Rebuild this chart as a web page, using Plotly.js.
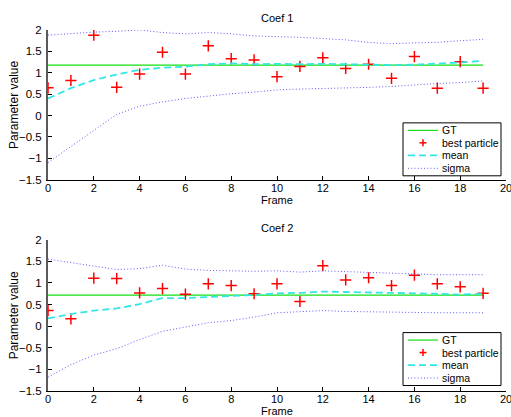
<!DOCTYPE html>
<html>
<head>
<meta charset="utf-8">
<script src="https://cdn.plot.ly/plotly-3.0.1.min.js"></script>
<style>
html,body{margin:0;padding:0;background:#fff;}
#chart{width:511px;height:417px;}
</style>
</head>
<body>
<div id="chart"></div>
<script>
// ---- data ----
const frames = [0,1,2,3,4,5,6,7,8,9,10,11,12,13,14,15,16,17,18,19];

const coef1Gt = 1.18;
const coef1Best  = [0.65,0.82,1.88,0.66,0.97,1.48,0.97,1.63,1.33,1.30,0.91,1.15,1.35,1.10,1.20,0.87,1.38,0.64,1.26,0.64];
const coef1Mean  = [0.40,0.64,0.83,0.96,1.07,1.12,1.14,1.20,1.22,1.20,1.21,1.20,1.21,1.20,1.20,1.18,1.19,1.21,1.24,1.28];
const coef1Upper = [1.88,1.92,1.95,1.97,2.00,1.94,1.91,1.94,1.91,1.86,1.85,1.83,1.80,1.77,1.71,1.68,1.70,1.71,1.75,1.78];
const coef1Lower = [-1.10,-0.72,-0.36,0.03,0.22,0.32,0.40,0.46,0.51,0.55,0.60,0.62,0.63,0.65,0.66,0.68,0.72,0.75,0.77,0.81];

const coef2Gt = 0.72;
const coef2Best  = [0.36,0.17,1.11,1.10,0.77,0.87,0.74,0.98,0.94,0.75,0.98,0.57,1.40,1.07,1.12,0.94,1.18,0.98,0.91,0.76];
const coef2Mean  = [0.18,0.28,0.36,0.41,0.51,0.65,0.65,0.68,0.70,0.72,0.76,0.77,0.80,0.79,0.78,0.78,0.76,0.75,0.73,0.75];
const coef2Upper = [1.55,1.47,1.40,1.31,1.33,1.41,1.32,1.29,1.28,1.27,1.28,1.25,1.28,1.26,1.25,1.23,1.21,1.19,1.19,1.19];
const coef2Lower = [-1.18,-0.89,-0.67,-0.52,-0.31,-0.12,-0.02,0.08,0.13,0.21,0.31,0.33,0.36,0.34,0.33,0.33,0.32,0.31,0.31,0.31];

const titles = ['Coef 1','Coef 2'];
const legendLabels = ['GT','best particle','mean','sigma'];
const xLabel = 'Frame';
const yLabel = 'Parameter value';

// ---- styles ----
const FONT = 'Liberation Sans, Arial, Helvetica, sans-serif';
const GREEN = '#12e012';
const RED = '#ff0000';
const CYAN = '#33e6e6';
const BLUE = 'rgb(90,90,250)';
const MEAN_DASH = '7px,4px';
const SIG_DASH = '1px,2.2px';

const W = 511, H = 417;
const M = {l:48, r:5, t:30, b:25.5};
const PW = W - M.l - M.r, PH = H - M.t - M.b;
const px2x = p => (p - M.l) / PW;
const px2y = p => (H - M.b - p) / PH;

function series(xa, ya, gt, best, mean, upper, lower) {
  const ax = {xaxis: xa, yaxis: ya, showlegend: false, hoverinfo: 'skip'};
  return [
    Object.assign({x:[frames[0], frames[frames.length-1]], y:[gt, gt], mode:'lines',
      line:{color:GREEN, width:1.2}}, ax),
    Object.assign({x:frames, y:best, mode:'markers',
      marker:{symbol:'cross-thin-open', size:8, color:RED, line:{color:RED, width:1.5}}}, ax),
    Object.assign({x:frames, y:mean, mode:'lines',
      line:{color:CYAN, width:1.8, dash:MEAN_DASH}}, ax),
    Object.assign({x:frames, y:upper, mode:'lines',
      line:{color:BLUE, width:1, dash:SIG_DASH}}, ax),
    Object.assign({x:frames, y:lower, mode:'lines',
      line:{color:BLUE, width:1, dash:SIG_DASH}}, ax)
  ];
}

const data = [].concat(
  series('x', 'y', coef1Gt, coef1Best, coef1Mean, coef1Upper, coef1Lower),
  series('x2', 'y2', coef2Gt, coef2Best, coef2Mean, coef2Upper, coef2Lower)
);

function xAx(anchor) {
  return {anchor: anchor, domain:[0,1], range:[0,20], dtick:2, tick0:0,
    ticks:'inside', ticklen:4, tickcolor:'#000', tickwidth:1,
    showline:true, linecolor:'#000', linewidth:1, mirror:false,
    showgrid:false, zeroline:false, ticklabeloverflow:'allow', ticklabelstandoff:-2,
    tickfont:{family:FONT, size:11, color:'#000'}};
}
function yAx(anchor, domain) {
  return {anchor: anchor, domain: domain, range:[-1.5,2], dtick:0.5, tick0:0,
    ticks:'inside', ticklen:4, tickcolor:'#000', tickwidth:1,
    showline:true, linecolor:'#5a5a5a', linewidth:2, mirror:false,
    showgrid:false, zeroline:false, ticklabelstandoff:2, ticklabeloverflow:'allow',
    tickfont:{family:FONT, size:11.5, color:'#000'}};
}

const top1 = 30, bot1 = 180, top2 = 240, bot2 = 391.5;

const layout = {
  width:W, height:H, margin:M,
  paper_bgcolor:'#fff', plot_bgcolor:'rgba(0,0,0,0)',
  showlegend:false,
  font:{family:FONT, size:11, color:'#000'},
  xaxis: xAx('y'),
  yaxis: yAx('x', [px2y(bot1), px2y(top1)]),
  xaxis2: xAx('y2'),
  yaxis2: yAx('x2', [0, px2y(top2)]),
  annotations: [],
  shapes: []
};

const midX = px2x((M.l + W - M.r) / 2);
[[top1, bot1, titles[0]], [top2, bot2, titles[1]]].forEach(([t, b, ttl]) => {
  layout.annotations.push({xref:'paper', yref:'paper', x:midX, y:px2y(t - 12), text:ttl,
    showarrow:false, xanchor:'center', yanchor:'middle', font:{family:FONT, size:11}});
  layout.annotations.push({xref:'paper', yref:'paper', x:midX, y:px2y(b + 20.5), text:xLabel,
    showarrow:false, xanchor:'center', yanchor:'middle', font:{family:FONT, size:11}});
  layout.annotations.push({xref:'paper', yref:'paper', x:px2x(14), y:px2y((t + b) / 2), text:yLabel,
    textangle:-90, showarrow:false, xanchor:'center', yanchor:'middle', font:{family:FONT, size:12}});
});

function addLegend(boxTop) {
  const L = 403, R = 501, T = boxTop, B = boxTop + 53;
  const S = layout.shapes, A = layout.annotations;
  S.push({type:'rect', xref:'paper', yref:'paper', x0:px2x(L), x1:px2x(R), y0:px2y(B), y1:px2y(T),
    fillcolor:'#fff', line:{color:'#000', width:1}});
  const rows = [T + 7.5, T + 20, T + 32.5, T + 45.5];
  const lx0 = px2x(408), lx1 = px2x(438);
  S.push({type:'line', xref:'paper', yref:'paper', x0:lx0, x1:lx1, y0:px2y(rows[0]), y1:px2y(rows[0]),
    line:{color:GREEN, width:1.2}});
  const cx = 423, cy = rows[1], h = 3.5;
  S.push({type:'line', xref:'paper', yref:'paper', x0:px2x(cx - h), x1:px2x(cx + h), y0:px2y(cy), y1:px2y(cy),
    line:{color:RED, width:1.5}});
  S.push({type:'line', xref:'paper', yref:'paper', x0:px2x(cx), x1:px2x(cx), y0:px2y(cy - h), y1:px2y(cy + h),
    line:{color:RED, width:1.5}});
  S.push({type:'line', xref:'paper', yref:'paper', x0:lx0, x1:lx1, y0:px2y(rows[2]), y1:px2y(rows[2]),
    line:{color:CYAN, width:1.8, dash:MEAN_DASH}});
  S.push({type:'line', xref:'paper', yref:'paper', x0:lx0, x1:lx1, y0:px2y(rows[3]), y1:px2y(rows[3]),
    line:{color:BLUE, width:1, dash:SIG_DASH}});
  legendLabels.forEach((lab, i) => {
    A.push({xref:'paper', yref:'paper', x:px2x(440), y:px2y(rows[i]), text:lab, showarrow:false,
      xanchor:'left', yanchor:'middle', font:{family:FONT, size:10.5, color:'#000'}});
  });
}
addLegend(123);
addLegend(333);

Plotly.newPlot('chart', data, layout, {staticPlot:true, displayModeBar:false});
</script>
</body>
</html>
